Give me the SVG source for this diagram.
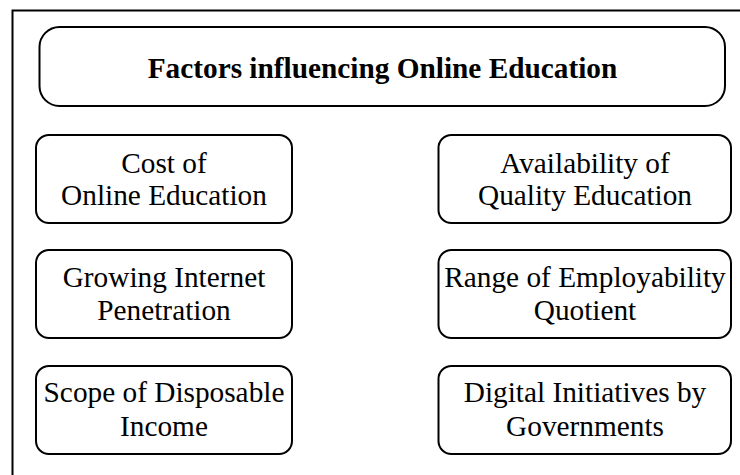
<svg xmlns="http://www.w3.org/2000/svg" width="740" height="475" viewBox="0 0 740 475">
<style>
.box{fill:#fff;stroke:#000;stroke-width:2}
.t{font-family:"Liberation Serif","Times New Roman",serif;font-size:29.3px;fill:#000;text-anchor:middle}
.b{font-weight:bold}
</style>
<rect x="0" y="0" width="740" height="475" fill="#fff"/>
<g id="frame">
<path d="M12.5 475 V10.5 H740" fill="none" stroke="#000" stroke-width="2"/>
</g>
<g id="title">
<rect class="box" x="39.5" y="27" width="685.5" height="79" rx="20"/>
<text class="t b" x="382.5" y="78">Factors influencing Online Education</text>
</g>
<g id="cost">
<rect class="box" x="36" y="135" width="256" height="88" rx="13"/>
<text class="t" x="164" y="173">Cost of</text>
<text class="t" x="164" y="205">Online Education</text>
</g>
<g id="internet">
<rect class="box" x="36" y="250" width="256" height="88" rx="13"/>
<text class="t" x="164" y="287">Growing Internet</text>
<text class="t" x="164" y="320">Penetration</text>
</g>
<g id="income">
<rect class="box" x="36" y="366" width="256" height="88" rx="13"/>
<text class="t" x="164" y="402">Scope of Disposable</text>
<text class="t" x="164" y="436">Income</text>
</g>
<g id="quality">
<rect class="box" x="438.5" y="135" width="292.5" height="88" rx="13"/>
<text class="t" x="585" y="173">Availability of</text>
<text class="t" x="585" y="205">Quality Education</text>
</g>
<g id="employability">
<rect class="box" x="438.5" y="250" width="292.5" height="88" rx="13"/>
<text class="t" x="585" y="287">Range of Employability</text>
<text class="t" x="585" y="320">Quotient</text>
</g>
<g id="digital">
<rect class="box" x="438.5" y="366" width="292.5" height="88" rx="13"/>
<text class="t" x="585" y="402">Digital Initiatives by</text>
<text class="t" x="585" y="436">Governments</text>
</g>
<g id="connectors"></g>
</svg>
